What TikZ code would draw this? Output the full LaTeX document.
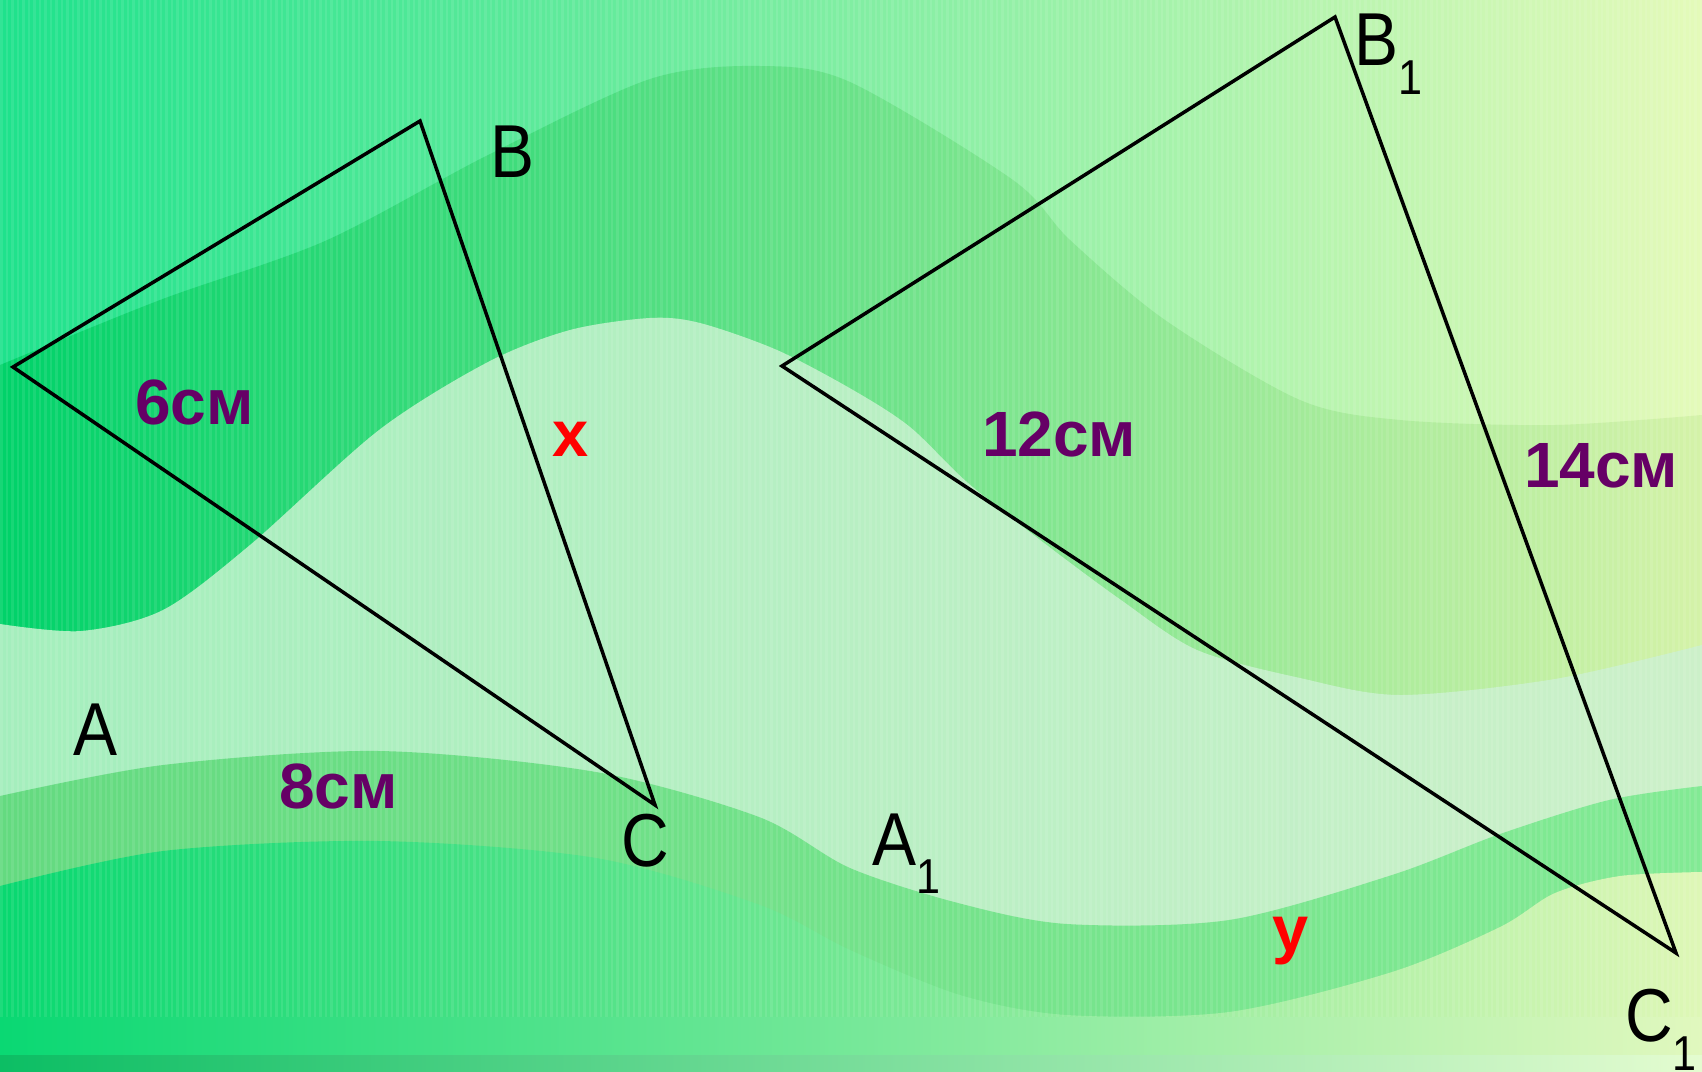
\documentclass[tikz,border=0pt]{standalone}
\usepackage{fontspec}
\setmainfont{Liberation Sans}
\newfontfamily\lblfont{Liberation Sans}[FakeStretch=0.88]
\definecolor{topL}{RGB}{30,226,140}
\definecolor{topM}{RGB}{120,236,160}
\definecolor{topR}{RGB}{228,250,185}
\definecolor{bandL}{RGB}{0,210,105}
\definecolor{bandM}{RGB}{95,226,135}
\definecolor{bandR}{RGB}{212,242,168}
\definecolor{lightL}{RGB}{228,250,222}
\definecolor{lightR}{RGB}{202,240,215}
\definecolor{bOneL}{RGB}{100,218,128}
\definecolor{bOneM}{RGB}{115,228,140}
\definecolor{bOneR}{RGB}{130,234,148}
\definecolor{bTwoL}{RGB}{8,216,112}
\definecolor{bTwoM}{RGB}{105,229,140}
\definecolor{bTwoR}{RGB}{222,247,182}
\definecolor{stL}{RGB}{10,216,115}
\definecolor{stM}{RGB}{110,232,150}
\definecolor{stR}{RGB}{225,248,190}
\definecolor{barL}{RGB}{12,190,100}
\definecolor{barM}{RGB}{130,238,175}
\definecolor{barR}{RGB}{228,252,208}
\definecolor{lblpurple}{RGB}{102,0,102}
\begin{document}
\begin{tikzpicture}[x=1pt,y=-1pt,
  vlabel/.style={anchor=base west,inner sep=0pt,font=\lblfont\fontsize{75}{75}\selectfont},
  mlabel/.style={anchor=base west,inner sep=0pt,text=lblpurple,font=\bfseries\fontsize{64}{64}\selectfont},
  ulabel/.style={anchor=base west,inner sep=0pt,text=red,font=\bfseries\fontsize{65}{65}\selectfont},
  tri/.style={draw=black,line width=3.5pt,line join=miter}]
\useasboundingbox (0,0) rectangle (1702,1071);
\begin{scope}
\clip (0,0) rectangle (1702,1071);
\shade[left color=topL, middle color=topM, right color=topR] (0,0) rectangle (1702,1071);
\shade[left color=bandL, middle color=bandM, right color=bandR]
  plot[smooth] coordinates {(0,365) (160,300) (325,241) (488,155) (650,79) (760,66) (850,82) (1013,180) (1070,240) (1165,320) (1300,400) (1400,420) (1555,425) (1702,415)}
  -- (1702,1071) -- (0,1071) -- cycle;
\shade[left color=lightL, right color=lightR, opacity=0.72]
  plot[smooth] coordinates {(0,624) (81,631) (163,610) (250,545) (379,430) (488,362) (570,330) (650,318) (700,323) (777,350) (853,390) (910,427) (968,483) (1044,543) (1121,600) (1197,650) (1300,678) (1400,695) (1555,679) (1702,645)}
  -- (1702,1071) -- (0,1071) -- cycle;
\shade[left color=bOneL, middle color=bOneM, right color=bOneR]
  plot[smooth] coordinates {(0,796) (163,765) (379,751) (596,772) (759,817) (850,868) (958,903) (1067,924) (1229,920) (1392,875) (1500,834) (1609,800) (1702,786)}
  -- (1702,1071) -- (0,1071) -- cycle;
\shade[left color=bTwoL, middle color=bTwoM, right color=bTwoR]
  plot[smooth] coordinates {(0,886) (163,851) (379,841) (596,858) (760,905) (850,950) (960,995) (1067,1015) (1229,1012) (1392,972) (1500,927) (1555,893) (1620,876) (1702,872)}
  -- (1702,1071) -- (0,1071) -- cycle;
\foreach \i in {0,...,309} \fill[white,opacity=0.09] (\i*5.5,0) rectangle ++(2.5,1017);
\shade[left color=stL, middle color=stM, right color=stR] (0,1017) rectangle (1702,1055);
\shade[left color=barL, middle color=barM, right color=barR] (0,1055) rectangle (1702,1071);
\end{scope}
% triangles
\coordinate (A) at (13,367);
\coordinate (B) at (420,121);
\coordinate (C) at (655,805);
\coordinate (A1) at (782,366);
\coordinate (B1) at (1335,17);
\coordinate (C1) at (1676,953);
\draw[tri] (A) -- (B) -- (C) -- cycle;
\draw[tri] (A1) -- (B1) -- (C1) -- cycle;
% vertex labels
\node[vlabel] (lB) at (490,177) {B};
\node[vlabel] (lA) at (73,755) {A};
\node[vlabel] (lC) at (621,866) {C};
\node[vlabel] (lA1) at (872,865) {A\raisebox{-28pt}{\fontsize{49}{49}\selectfont 1}};
\node[vlabel] (lB1) at (1354,65) {B\raisebox{-29pt}{\fontsize{49}{49}\selectfont 1}};
\node[vlabel] (lC1) at (1625,1041) {C\raisebox{-29pt}{\fontsize{49}{49}\selectfont 1}};
% measures
\node[mlabel] (m6) at (135,424) {6см};
\node[mlabel] (m8) at (279,808) {8см};
\node[mlabel] (m12) at (982,456) {12см};
\node[mlabel] (m14) at (1524,487) {14см};
\node[ulabel] (ux) at (552,456) {x};
\node[ulabel] (uy) at (1272,951) {y};
\end{tikzpicture}
\end{document}
